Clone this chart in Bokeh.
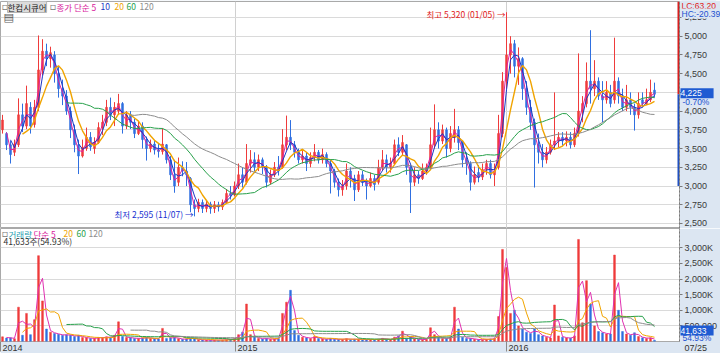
import numpy as np
import pandas as pd
from bokeh.plotting import figure
from bokeh.layouts import column
from bokeh.models import Range1d, FixedTicker, LinearAxis, Label, NumeralTickFormatter, ColumnDataSource
from bokeh.embed import file_html
from bokeh.resources import INLINE

# ---------------- data (each candle ~ 3.6 trading days) ----------------
stock_name = "한컴시큐어"
opens = [3750, 3700, 3550, 3450, 3550, 3950, 3800, 4050, 3820, 4050,
         4550, 4800, 4700, 4750, 4500, 4300, 4200, 4000, 3750, 3550,
         3400, 3500, 3650, 3500, 3580, 3780, 3850, 4050, 3950, 4000,
         4100, 3800, 3950, 3850, 3700, 3800, 3620, 3500, 3560, 3480,
         3460, 3550, 3350, 3150, 3050, 3250, 3200, 3100, 2750, 2700,
         2780, 2700, 2760, 2700, 2750, 2720, 2780, 2900, 2880, 3000,
         3150, 3050, 3300, 3350, 3250, 3350, 3250, 3050, 3150, 3250,
         3250, 3550, 3650, 3550, 3450, 3350, 3400, 3300, 3380, 3450,
         3350, 3420, 3300, 3200, 3050, 2950, 3000, 3200, 3100, 2950,
         3150, 3050, 3000, 3100, 3050, 3250, 3350, 3250, 3300, 3550,
         3450, 3550, 3250, 3050, 3150, 3100, 3200, 3250, 3550, 3750,
         3600, 3750, 3500, 3650, 3750, 3580, 3350, 3300, 3050, 3180,
         3120, 3220, 3300, 3150, 3250, 3700, 4400, 4750, 4900, 4600,
         4700, 4300, 4050, 3850, 3550, 3450, 3350, 3450, 3550, 3600,
         3650, 3600, 3650, 3550, 3700, 4000, 4100, 4400, 4300, 4400,
         4200, 4150, 4250, 4150, 4400, 4200, 4050, 4150, 4050, 3950,
         4150, 4100, 4150, 4280]
highs = [3950, 3720, 3600, 3620, 4170, 4100, 4340, 4120, 4150, 5010,
         4960, 4900, 4860, 4800, 4600, 4420, 4280, 4060, 3820, 3620,
         3620, 3780, 3720, 3650, 3850, 3950, 4150, 4180, 4120, 4230,
         4120, 4000, 4000, 3900, 3860, 3850, 3660, 3620, 3600, 3560,
         3770, 3560, 3400, 3350, 3380, 3330, 3320, 3120, 2820, 2830,
         2820, 2800, 2790, 2800, 2790, 2820, 2960, 3000, 3060, 3300,
         3250, 3560, 3480, 3450, 3420, 3380, 3280, 3220, 3320, 3400,
         3760, 3940, 3880, 3600, 3500, 3470, 3450, 3450, 3560, 3480,
         3500, 3450, 3350, 3230, 3100, 3080, 3300, 3250, 3150, 3200,
         3200, 3100, 3180, 3150, 3350, 3480, 3420, 3380, 3620, 3650,
         3680, 3560, 3280, 3250, 3200, 3300, 3300, 3780, 4090, 3850,
         3820, 3780, 3800, 4030, 3800, 3600, 3450, 3330, 3260, 3280,
         3300, 3350, 3350, 3300, 3950, 4520, 5320, 5000, 4950, 4850,
         4720, 4400, 4150, 3900, 3700, 3560, 3520, 3620, 4250, 3720,
         3720, 3730, 3720, 3780, 4770, 4200, 4650, 5080, 4680, 4450,
         4400, 4400, 4350, 4980, 4450, 4300, 4350, 4250, 4100, 4250,
         4250, 4300, 4420, 4380]
lows = [3700, 3480, 3300, 3400, 3520, 3720, 3760, 3700, 3780, 4000,
        4480, 4600, 4580, 4380, 4180, 4080, 3950, 3640, 3450, 3160,
        3380, 3470, 3470, 3430, 3560, 3680, 3800, 3880, 3800, 3950,
        3700, 3760, 3760, 3640, 3680, 3500, 3340, 3450, 3420, 3380,
        3420, 3300, 3080, 2910, 3000, 3130, 3000, 2650, 2595, 2650,
        2640, 2650, 2630, 2640, 2660, 2680, 2760, 2820, 2860, 2960,
        2980, 3020, 3180, 3200, 3200, 3160, 2980, 3020, 3120, 3140,
        3230, 3480, 3480, 3380, 3300, 3300, 3200, 3250, 3330, 3300,
        3300, 3250, 2900, 2980, 2860, 2870, 2950, 2980, 2800, 2920,
        3000, 2820, 2980, 2940, 3020, 3200, 3180, 3180, 3280, 3400,
        3400, 3150, 2640, 3000, 3030, 3080, 3150, 3220, 3500, 3500,
        3560, 3380, 3450, 3580, 3480, 3250, 3150, 2940, 3020, 3050,
        3080, 3150, 3100, 3000, 3220, 3650, 4300, 4500, 4450, 4350,
        4150, 3950, 3750, 2980, 3300, 3250, 3300, 3420, 3480, 3520,
        3540, 3530, 3500, 3520, 3660, 3850, 4050, 4100, 4200, 4150,
        3850, 4100, 4050, 4100, 4100, 4000, 4000, 3950, 3740, 3900,
        4050, 4080, 4120, 4180]
closes = [3880, 3550, 3420, 3560, 3950, 3800, 4100, 3800, 4050, 4550,
          4800, 4700, 4780, 4500, 4300, 4200, 4000, 3750, 3550, 3400,
          3520, 3650, 3520, 3580, 3780, 3850, 4050, 3950, 4050, 4100,
          3800, 3950, 3850, 3700, 3800, 3620, 3500, 3560, 3480, 3460,
          3560, 3350, 3150, 3000, 3250, 3200, 3150, 2750, 2700, 2780,
          2700, 2760, 2700, 2750, 2720, 2780, 2900, 2880, 3000, 3150,
          3050, 3300, 3350, 3250, 3350, 3250, 3050, 3150, 3250, 3200,
          3550, 3650, 3550, 3450, 3350, 3400, 3300, 3380, 3450, 3350,
          3420, 3300, 3200, 3050, 2950, 3000, 3200, 3100, 2950, 3150,
          3050, 3000, 3100, 3020, 3250, 3350, 3250, 3300, 3550, 3450,
          3580, 3250, 3050, 3150, 3100, 3200, 3250, 3550, 3750, 3600,
          3750, 3500, 3700, 3750, 3580, 3350, 3300, 3050, 3150, 3120,
          3220, 3300, 3150, 3200, 3700, 4400, 4750, 4900, 4600, 4700,
          4300, 4050, 3850, 3550, 3450, 3350, 3450, 3550, 3600, 3650,
          3600, 3650, 3550, 3700, 4000, 4100, 4400, 4300, 4400, 4200,
          4150, 4250, 4100, 4400, 4200, 4050, 4150, 4050, 3950, 4100,
          4100, 4150, 4250, 4225]
volumes_k = [150, 110, 120, 90, 1100, 200, 900, 220, 700, 2750,
             1300, 400, 300, 260, 230, 200, 220, 200, 160, 200,
             130, 120, 100, 100, 130, 120, 150, 130, 200, 630,
             160, 130, 120, 100, 100, 110, 130, 100, 90, 80,
             420, 100, 120, 130, 90, 70, 80, 110, 90, 60,
             50, 45, 40, 45, 40, 50, 60, 70, 90, 220,
             300, 1200, 220, 150, 100, 80, 100, 70, 80, 100,
             900, 1260, 1640, 350, 200, 140, 120, 100, 160, 100,
             80, 70, 100, 70, 70, 70, 90, 60, 80, 70,
             55, 60, 70, 55, 80, 100, 70, 60, 140, 180,
             330, 100, 150, 80, 70, 60, 70, 440, 220, 140,
             100, 100, 140, 1100, 400, 140, 100, 100, 70, 60,
             55, 70, 80, 90, 800, 2950, 2370, 900, 1000, 500,
             400, 300, 260, 400, 220, 180, 140, 110, 1170, 180,
             140, 110, 110, 180, 3270, 600, 1950, 1200, 500, 320,
             280, 240, 240, 2770, 1000, 320, 240, 200, 280, 160,
             120, 100, 120, 41.633]

# moving averages: days -> window in candles
price_ma = [("5", 2, "#e0209e", 1.0), ("10", 3, "#1a36c4", 1.0), ("20", 6, "#f0a400", 1.4),
            ("60", 17, "#27a04a", 1.0), ("120", 33, "#8c8c8c", 1.0)]
volume_ma = [("5", 2, "#e030b0", 1.0), ("20", 6, "#f0a400", 1.0),
             ("60", 17, "#27a04a", 1.0), ("120", 33, "#8c8c8c", 1.0)]

year_pos = [58.25, 126]
year_labels = ["2015", "2016"]
first_label = "2014"
last_date = "07/25"
price_ticks = [2500, 2750, 3000, 3250, 3500, 3750, 4000, 4250, 4500, 4750, 5000, 5250]
volume_ticks = [500, 1000, 1500, 2000, 2500, 3000]
volume_tick_labels = ["500,000", "1,000K", "1,500K", "2,000K", "2,500K", "3,000K"]
high_date, low_date = "01/05", "11/07"
change_pct = "-0.70%"
vol_pct = "54.93%"
lc_text, hc_text = "LC:63.20", "HC:-20.39"
bar_floor = 3000

# ---------------- styling ----------------
KR = "Noto Sans CJK KR"
NUM = "Liberation Sans"
PANEL = "#dce6f2"
UP, DOWN = "#ef3b3b", "#2f6fe0"
GRID = "#dadada"
PX = 4.0  # pixels per candle slot

n = len(closes)
xs = np.arange(n)
o, h, l, c = (np.array(a, float) for a in (opens, highs, lows, closes))
v = np.array(volumes_k, float)
colors = np.where(c >= o, UP, DOWN)
src = ColumnDataSource(dict(x=xs, high=h, low=l, top=np.maximum(o, c), bottom=np.minimum(o, c),
                            vol=v, color=colors))

def sma(a, w):
    return pd.Series(a).rolling(w).mean().to_numpy()

xr = Range1d(-0.5, -0.5 + 679 / PX)
x_panel = xr.end + 2 / PX       # first pixel column of the right-hand panel

def base_fig(fh, yr, top):
    p = figure(frame_width=679, frame_height=fh, x_range=xr, y_range=yr,
               output_backend="svg", toolbar_location=None,
               x_axis_location=None, y_axis_location=None,
               min_border=0, min_border_top=top, min_border_right=41, min_border_left=0,
               border_fill_color=PANEL, background_fill_color="white",
               outline_line_color="#a9a9a9")
    p.xgrid.ticker = FixedTicker(ticks=year_pos)
    p.xgrid.grid_line_color = "#d0d0d0"
    p.ygrid.grid_line_color = GRID
    return p

def right_axis(p, ticks, overrides=None, fmt=True):
    ax = LinearAxis(ticker=FixedTicker(ticks=ticks))
    if fmt:
        ax.formatter = NumeralTickFormatter(format="0,0")
    if overrides:
        ax.major_label_overrides = overrides
    ax.axis_line_color = "#7a7a7a"
    ax.axis_line_dash = "2 2"
    ax.major_tick_in = 0
    ax.major_tick_out = 3
    ax.major_tick_line_color = "#7a7a7a"
    ax.minor_tick_line_color = None
    ax.major_label_standoff = 2
    ax.major_label_text_font = NUM
    ax.major_label_text_font_size = "9px"
    ax.major_label_text_color = "#3a3a3a"
    p.add_layout(ax, "right")

def lab(p, x, y, text, color, size="8.5px", font=KR, align="left", baseline="middle",
        xu="screen", yu="screen", bg=None, side="center", **kw):
    p.add_layout(Label(x=x, y=y, x_units=xu, y_units=yu, text=text, text_color=color,
                       text_font=font, text_font_size=size, text_align=align,
                       text_baseline=baseline, background_fill_color=bg, **kw), side)

# ---------------- price panel ----------------
p1 = base_fig(227, Range1d(2433, 5463), 1)
p1.ygrid.ticker = FixedTicker(ticks=price_ticks)
right_axis(p1, price_ticks)

p1.segment(x0="x", y0="low", x1="x", y1="high", line_color="color", line_width=1, source=src)
p1.vbar(x="x", width=0.5, top="top", bottom="bottom", fill_color="color",
        line_color="color", line_width=0.5, source=src)
for name, w, col, lw in price_ma:
    p1.line(xs, sma(c, w), line_color=col, line_width=lw)

# side bar at the right edge (red above current price, blue below)
p1.quad(left=[xr.end - 0.5], right=[xr.end], bottom=[c[-1]], top=[p1.y_range.end],
        fill_color="#d81e1e", line_color=None)
p1.quad(left=[xr.end - 0.5], right=[xr.end], bottom=[bar_floor], top=[c[-1]],
        fill_color="#1f4fc0", line_color=None)

i_hi = int(np.argmax(h))
i_lo = int(np.argmin(l))
lab(p1, i_hi, h[i_hi], f"최고 {int(h[i_hi]):,} ({high_date}) →", "#e01a1a",
    xu="data", yu="data", align="right", x_offset=-1, y_offset=-2)
lab(p1, i_lo, l[i_lo], f"최저 {int(l[i_lo]):,} ({low_date}) →", "#1530d0",
    xu="data", yu="data", align="right", x_offset=-1, y_offset=2)

# legend row
lab(p1, 1, 222, "▫", "#777777", size="10px", font="DejaVu Sans")
lab(p1, 7, 222, stock_name, "#222222", bg="#dcdcdc", border_line_color="#b5b5b5")
lab(p1, 49, 222, "▫", "#777777", size="10px", font="DejaVu Sans")
x0 = 56
for txt, col, dx in [("종가 단순 5", "#d8209c", 0), ("10", "#1a36c4", 44),
                     ("20", "#f0a400", 58), ("60", "#27a04a", 70), ("120", "#8c8c8c", 83)]:
    lab(p1, x0 + dx, 222, txt, col)
lab(p1, 3, 211, "▤", "#5a5a5a", size="11px", font="DejaVu Sans")

# right-side info (placed in the right panel so it is not clipped)
ytop = p1.y_range.end
lab(p1, x_panel, ytop, lc_text, "#e02020", font=NUM, xu="data", yu="data",
    y_offset=-4, bg=PANEL, side="right")
lab(p1, x_panel, ytop, hc_text, "#2050d0", font=NUM, xu="data", yu="data",
    y_offset=-12, bg=PANEL, side="right")
lab(p1, x_panel - 0.25, c[-1], f"{int(c[-1]):,}" + "\u00a0" * 5, "white", font=NUM,
    xu="data", yu="data", bg="#1f5bd2", y_offset=1, side="right")
lab(p1, x_panel + 0.25, c[-1], change_pct, "#2050d0", font=NUM, xu="data", yu="data",
    y_offset=-8, side="right")

# ---------------- volume panel ----------------
p2 = base_fig(113, Range1d(0, 3620), 0)
p2.ygrid.ticker = FixedTicker(ticks=volume_ticks)
right_axis(p2, volume_ticks, dict(zip(volume_ticks, volume_tick_labels)), fmt=False)

p2.vbar(x="x", width=0.45, top="vol", bottom=0, fill_color="color", line_color="color",
        line_width=0.5, source=src)
for name, w, col, lw in volume_ma:
    p2.line(xs, sma(v, w), line_color=col, line_width=lw)

bx = LinearAxis(ticker=FixedTicker(ticks=[xr.start] + year_pos))
bx.axis_line_color = None
bx.major_tick_in = 0
bx.major_tick_out = 10
bx.major_tick_line_color = "#8a8a8a"
bx.minor_tick_line_color = None
bx.major_label_standoff = 0
bx.major_label_text_font_size = "1px"
bx.major_label_text_color = None
p2.add_layout(bx, "below")
p2.min_border_bottom = 12

for pos, txt in zip([xr.start] + year_pos, [first_label] + year_labels):
    lab(p2, pos, 0, txt, "#333333", size="9px", font=NUM, xu="data", yu="data",
        x_offset=2, y_offset=-6, side="below")
lab(p2, x_panel + 0.75, 0, last_date, "#333333", size="9px", font=NUM, xu="data", yu="data",
    y_offset=-6, side="below")

lab(p2, 1, 108, "▫", "#777777", size="10px", font="DejaVu Sans")
for txt, col, xp in [("거래량", "#2a9fb0", 8), ("단순 5", "#d8209c", 33), ("20", "#f0a400", 63),
                     ("60", "#27a04a", 76), ("120", "#8c8c8c", 88)]:
    lab(p2, xp, 108, txt, col)
vol_txt = f"{round(v[-1] * 1000):,}"
lab(p2, 3, 100.5, f"{vol_txt}주({vol_pct})", "#333333")
lab(p2, x_panel - 0.25, 0, vol_txt + "\u00a0" * 3, "white", font=NUM, xu="data", yu="data",
    bg="#1f5bd2", y_offset=11, side="right")
lab(p2, x_panel + 0.25, 0, vol_pct, "#2050d0", font=NUM, xu="data", yu="data",
    y_offset=4, side="right")

layout = column(p1, p2, spacing=0)
open("out.html", "w").write(file_html(layout, INLINE))
